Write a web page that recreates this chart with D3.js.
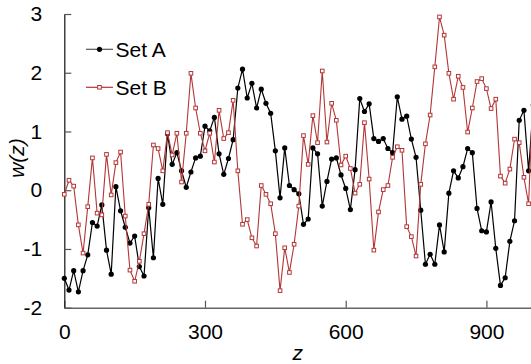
<!DOCTYPE html>
<html>
<head>
<meta charset="utf-8">
<script src="https://cdn.jsdelivr.net/npm/d3@7"></script>
<style>
  html, body { margin: 0; padding: 0; background: #fff; overflow: hidden; }
  svg { display: block; font-family: "Liberation Sans", Arial, sans-serif; }
</style>
</head>
<body>
<svg id="chart" width="531" height="364"></svg>
<script>
// z positions (every 10 units)
const zValues = d3.range(0, 1001, 10);
const seriesNames = ["Set A", "Set B"];
const setA = [
  -1.50, -1.70, -1.37, -1.73, -1.37, -1.10, -0.55, -0.61, -0.25, -1.02,
  -1.43, 0.06, -0.35, -0.63, -0.90, -0.78, -1.30, -1.46, -0.30, -1.15,
  0.20, -0.24, 0.96, 0.44, 0.64, 0.33, 0.05, 0.31, 0.55, 0.58,
  1.09, 1.01, 1.24, 0.62, 0.27, 0.54, 0.86, 1.74, 2.06, 1.57,
  1.82, 1.40, 1.72, 1.48, 1.31, 0.67, -0.13, 0.72, 0.08, 0.01,
  -0.06, -0.58, -0.49, 0.72, 0.62, -0.27, 0.15, 0.53, 0.55, 0.26,
  0.03, -0.33, 0.35, 1.56, 1.34, 1.47, 0.88, 0.83, 0.88, 0.71,
  0.64, 1.59, 1.21, 1.26, 0.87, 0.56, -0.34, -1.26, -1.09, -1.26,
  -0.59, -1.05, -0.05, 0.33, 0.21, 0.40, 0.71, 0.64, -0.31, -0.69,
  -0.71, -0.20, -0.99, -1.62, -1.49, -0.87, -0.52, 1.19, 1.36, 0.33,
  1.45
];
const setB = [
  -0.07, 0.17, 0.07, -0.59, -1.07, -0.28, 0.55, -0.39, -0.42, 0.61,
  -0.08, 0.47, 0.65, -0.44, -1.36, -1.55, -1.21, -0.74, -0.24, 0.77,
  0.71, 0.33, 0.98, 0.60, 0.97, 0.14, 0.97, 1.99, 1.40, 0.97,
  0.67, 0.97, 0.48, 1.36, 0.88, 0.98, 1.53, 0.33, -0.58, -0.50,
  -0.81, -0.95, 0.08, -0.07, -0.23, -0.74, -1.71, -0.98, -1.40, -0.92,
  -0.27, 0.93, 0.44, 1.27, 0.81, 2.03, 0.82, 1.48, 1.19, 0.43,
  0.58, 0.37, -0.05, 0.10, 1.15, 0.19, -1.02, -0.37, 0.01, 0.08,
  0.56, 0.74, 0.68, -0.62, -0.79, -1.12, 0.10, 0.79, 1.28, 2.10,
  2.95, 2.64, 1.99, 1.55, 1.94, 1.75, 0.99, 1.40, 1.85, 1.90,
  1.73, 1.39, 1.55, 0.24, 0.12, 0.36, 0.87, 0.81, 0.22, -0.23,
  1.80
];
const xTicks = [0, 300, 600, 900];
const yTicks = [-2, -1, 0, 1, 2, 3];

const colorA = "#000000";
const colorB = "#b33636";
const FONT = 21;

const svg = d3.select("#chart");
const x = d3.scaleLinear().domain([0, 1000]).range([64.3, 533.3]);
const y = d3.scaleLinear().domain([-2, 3]).range([307.7, 14]);
const fmt = d => String(d);

// X axis (ticks inward)
const xAxis = svg.append("g").attr("transform", `translate(0,${y(-2)})`)
  .call(d3.axisBottom(x).tickValues(xTicks).tickSizeInner(-7).tickSizeOuter(0).tickPadding(16).tickFormat(fmt));
xAxis.select(".domain").attr("stroke", "#666").attr("stroke-width", 1.6);
xAxis.selectAll(".tick line").attr("stroke", "#555").attr("stroke-width", 1.2);
xAxis.selectAll(".tick text").attr("font-size", FONT).attr("fill", "#000")
  .attr("font-family", "Liberation Sans, Arial, sans-serif");

// Y axis (ticks inward)
const yAxis = svg.append("g").attr("transform", `translate(${x(0)},0)`)
  .call(d3.axisLeft(y).tickValues(yTicks).tickSizeInner(-7).tickSizeOuter(0).tickPadding(22).tickFormat(fmt));
yAxis.select(".domain").attr("stroke", "#222").attr("stroke-width", 1.3);
yAxis.selectAll(".tick line").attr("stroke", "#555").attr("stroke-width", 1.2);
yAxis.selectAll(".tick text").attr("font-size", FONT).attr("fill", "#000")
  .attr("font-family", "Liberation Sans, Arial, sans-serif");

// Axis labels
svg.append("text").attr("x", x(500) - 1).attr("y", 360)
  .attr("text-anchor", "middle").attr("font-size", FONT).attr("font-style", "italic").text("z");
svg.append("text").attr("transform", "translate(24,158) rotate(-90)")
  .attr("text-anchor", "middle").attr("font-size", FONT).attr("font-style", "italic").text("w(z)");

const line = d3.line().x((d, i) => x(zValues[i])).y(d => y(d));

// Set A
svg.append("path").datum(setA).attr("d", line)
  .attr("fill", "none").attr("stroke", colorA).attr("stroke-width", 1.2);
svg.append("g").selectAll("circle").data(setA).join("circle")
  .attr("cx", (d, i) => x(zValues[i])).attr("cy", d => y(d)).attr("r", 2.6).attr("fill", colorA);

// Set B
svg.append("path").datum(setB).attr("d", line)
  .attr("fill", "none").attr("stroke", colorB).attr("stroke-width", 1.1);
const sq = 3.6;
svg.append("g").selectAll("rect").data(setB).join("rect")
  .attr("x", (d, i) => x(zValues[i]) - sq / 2).attr("y", d => y(d) - sq / 2)
  .attr("width", sq).attr("height", sq)
  .attr("fill", "#fff").attr("stroke", colorB).attr("stroke-width", 1);

// Legend
const legend = svg.append("g");
const legendY = [49.3, 87.3];
const legendColors = [colorA, colorB];
seriesNames.forEach((name, k) => {
  const g = legend.append("g");
  g.append("line").attr("x1", 86).attr("x2", 113).attr("y1", legendY[k]).attr("y2", legendY[k])
    .attr("stroke", k === 0 ? "#555" : colorB).attr("stroke-width", 1.2);
  if (k === 0) {
    g.append("circle").attr("cx", 99.5).attr("cy", legendY[k]).attr("r", 2.6).attr("fill", colorA);
  } else {
    g.append("rect").attr("x", 99.5 - sq / 2).attr("y", legendY[k] - sq / 2).attr("width", sq).attr("height", sq)
      .attr("fill", "#fff").attr("stroke", colorB).attr("stroke-width", 1);
  }
  g.append("text").attr("x", 115.5).attr("y", legendY[k] + 7.3).attr("font-size", FONT).attr("fill", "#000").text(name);
});
</script>
</body>
</html>
